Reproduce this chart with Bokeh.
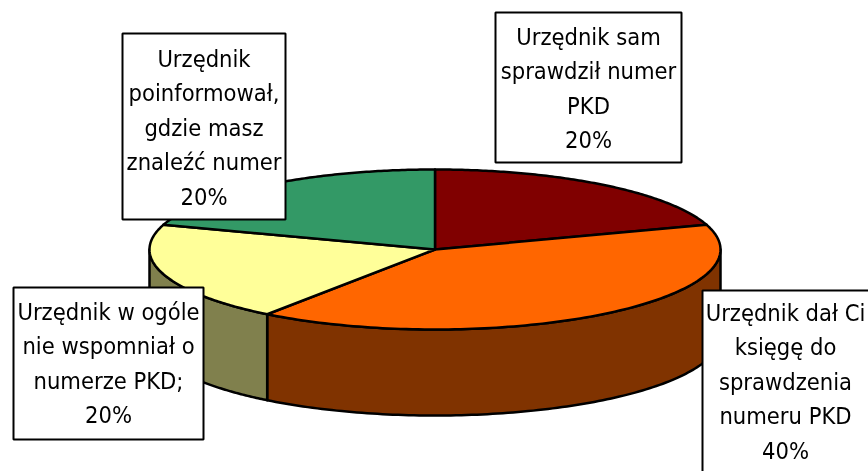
import numpy as np
from bokeh.plotting import figure
from bokeh.embed import file_html
from bokeh.resources import INLINE
from bokeh.core.properties import value

categories = ["Urzędnik sam sprawdził numer PKD",
              "Urzędnik dał Ci księgę do sprawdzenia numeru PKD",
              "Urzędnik w ogóle nie wspomniał o numerze PKD",
              "Urzędnik poinformował, gdzie masz znaleźć numer"]
shares = [20, 40, 20, 20]
top_colors = ["#800000", "#FF6600", "#FFFF99", "#339966"]
side_colors = ["#400000", "#803300", "#80804D", "#1A4D33"]

label_lines = [
    ["Urzędnik sam", "sprawdził numer", "PKD", "20%"],
    ["Urzędnik dał Ci", "księgę do", "sprawdzenia", "numeru PKD", "40%"],
    ["Urzędnik w ogóle", "nie wspomniał o", "numerze PKD;", "20%"],
    ["Urzędnik", "poinformował,", "gdzie masz", "znaleźć numer", "20%"],
]
# layout: left, right, top, bottom of each label box, first line centre
label_boxes = [(495, 681, 12, 162, 36), (702, 875, 290, 480, 312),
               (13, 203, 287, 439, 311), (122, 285, 33, 219, 58)]
LINE_STEP = 34.6
CX, CY, RX, RY, DEPTH = 434.5, 249, 285.5, 80, 86
FONT = "DejaVu Sans Condensed"
FONT_SIZE = "23.5px"

W, H = 868, 471
p = figure(width=W, height=H, x_range=(0, W), y_range=(H, 0),
           toolbar_location=None, output_backend="svg", min_border=0,
           outline_line_color=None, background_fill_color="white",
           border_fill_color="white",
           styles={"position": "fixed", "left": "0", "top": "0"})
p.axis.visible = False
p.grid.visible = False


def arc(a0, a1, dy=0.0):
    t = np.radians(np.linspace(a0, a1, 120))
    return CX + RX * np.sin(t), CY - RY * np.cos(t) + dy


edges = np.cumsum([0] + shares) / sum(shares) * 360.0

# visible outer wall: only the front half of the disc
for i in range(len(shares)):
    a0, a1 = max(edges[i], 90.0), min(edges[i + 1], 270.0)
    if a0 >= a1:
        continue
    x0, y0 = arc(a0, a1)
    x1, y1 = arc(a1, a0, DEPTH)
    p.patch(np.r_[x0, x1], np.r_[y0, y1], fill_color=side_colors[i],
            line_color="black", line_width=2.5, line_join="round")

# top face
for i in range(len(shares)):
    x0, y0 = arc(edges[i], edges[i + 1])
    p.patch(np.r_[CX, x0], np.r_[CY, y0], fill_color=top_colors[i],
            line_color="black", line_width=2.5, line_join="round")

# label boxes and text
for lines, (l, r, t, b, first) in zip(label_lines, label_boxes):
    p.quad(left=l, right=r, top=t, bottom=b, fill_color="white",
           line_color="black", line_width=2)
    xc = (l + r) / 2 if r < W else 785
    p.text([xc] * len(lines), [first + k * LINE_STEP for k in range(len(lines))],
           text=lines, text_align="center", text_baseline="middle",
           text_font=value(FONT), text_font_size=FONT_SIZE, text_color="black")

open("out.html", "w").write(file_html(p, INLINE))
